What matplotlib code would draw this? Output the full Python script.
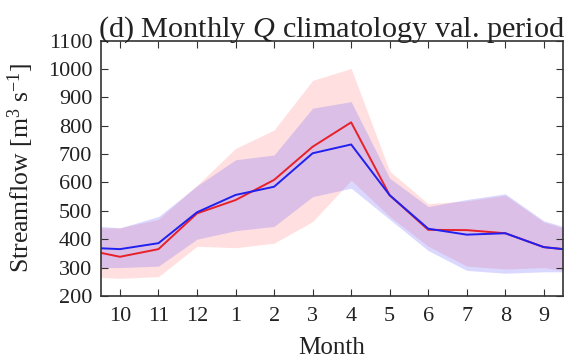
import numpy as np
import matplotlib
matplotlib.use("Agg")
import matplotlib.pyplot as plt

plt.rcParams["font.family"] = ["Liberation Serif", "DejaVu Serif"]
plt.rcParams["mathtext.fontset"] = "custom"
plt.rcParams["mathtext.rm"] = "Liberation Serif"
plt.rcParams["mathtext.it"] = "Liberation Serif:italic"

# water-year months (Oct .. Sep)
month_labels = ["10", "11", "12", "1", "2", "3", "4", "5", "6", "7", "8", "9"]

# mean monthly streamflow [m3/s]; *_ends are the values at the half-month plot edges
obs_q = [338, 365, 491, 538, 609, 726, 812, 555, 433, 432, 421, 372]
obs_ends = [352, 365]
sim_q = [365, 386, 495, 556, 585, 703, 734, 555, 437, 416, 421, 372]
sim_ends = [368, 365]

# spread bands around each climatology
obs_hi = [440, 470, 590, 720, 785, 960, 1002, 640, 525, 535, 555, 460]
obs_hi_ends = [440, 440]
obs_lo = [262, 268, 375, 370, 386, 462, 608, 480, 375, 305, 295, 300]
obs_lo_ends = [265, 290]
sim_hi = [440, 480, 588, 680, 697, 862, 885, 615, 515, 540, 560, 465]
sim_hi_ends = [445, 445]
sim_lo = [300, 305, 400, 430, 445, 550, 580, 470, 360, 290, 280, 285]
sim_lo_ends = [300, 285]

TEXT = "#222222"


def with_ends(vals, ends):
    return np.concatenate([[ends[0]], vals, [ends[1]]])


def main():
    n = len(month_labels)
    x = np.concatenate([[-0.5], np.arange(n), [n - 0.5]])

    fig = plt.figure(figsize=(5.74, 3.60), dpi=100)
    ax = fig.add_axes([0.1754, 0.178, 0.8056, 0.709])

    ax.fill_between(x, with_ends(obs_lo, obs_lo_ends), with_ends(obs_hi, obs_hi_ends),
                    color="#ff7070", alpha=0.22, linewidth=0)
    ax.fill_between(x, with_ends(sim_lo, sim_lo_ends), with_ends(sim_hi, sim_hi_ends),
                    color="#6a5cff", alpha=0.24, linewidth=0)

    ax.plot(x, with_ends(obs_q, obs_ends), color="#e8202a", lw=1.4)
    ax.plot(x, with_ends(sim_q, sim_ends), color="#2020f0", lw=1.4)

    ax.set_xlim(-0.5, n - 0.5)
    ax.set_ylim(200, 1100)
    ax.set_xticks(np.arange(n))
    ax.set_xticklabels(month_labels)
    ax.set_yticks(np.arange(200, 1101, 100))

    ax.tick_params(direction="in", top=True, right=True, length=5, width=0.8,
                   labelsize=16, colors="#333333", labelcolor=TEXT)
    ax.tick_params(axis="x", pad=8)
    ax.tick_params(axis="y", pad=6)
    for spine in ax.spines.values():
        spine.set_color("#333333")
        spine.set_linewidth(1.2)

    ax.set_title("(d) Monthly $Q$ climatology val. period", fontsize=21.8,
                 color=TEXT, pad=3)
    ax.set_xlabel("Month", fontsize=18, color=TEXT, va="top")
    ax.xaxis.set_label_coords(0.5, -0.16)
    ax.set_ylabel("Streamflow [m$^3$ s$^{-1}$]", fontsize=18.5, color=TEXT)
    ax.yaxis.set_label_coords(-0.14, 0.5)

    fig.savefig("out.png", dpi=100)


if __name__ == "__main__":
    main()
